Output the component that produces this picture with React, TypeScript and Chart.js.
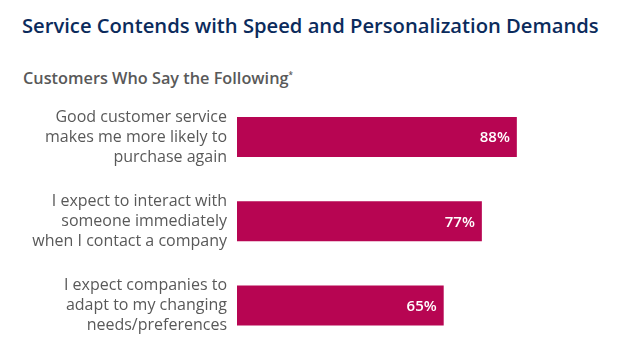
import React, { useEffect, useRef } from "react";
import { Chart, registerables } from "chart.js";

Chart.register(...registerables);

const categories: string[][] = [
  ["Good customer service", "makes me more likely to", "purchase again"],
  ["I expect to interact with", "someone immediately", "when I contact a company"],
  ["I expect companies to", "adapt to my changing", "needs/preferences"],
];
const values: number[] = [88, 77, 65];
const titleText = "Service Contends with Speed and Personalization Demands";
const subtitleText = "Customers Who Say the Following";

const FONT = "'Open Sans', 'Noto Sans', sans-serif";
const BAR_COLOR = "#b70552";

const valueLabels = {
  id: "valueLabels",
  afterDatasetsDraw(chart: any) {
    const ctx = chart.ctx;
    const meta = chart.getDatasetMeta(0);
    ctx.save();
    ctx.fillStyle = "#ffffff";
    ctx.font = `600 15px ${FONT}`;
    ctx.textAlign = "right";
    ctx.textBaseline = "middle";
    meta.data.forEach((bar: any, i: number) => {
      ctx.fillText(`${values[i]}%`, bar.x - 7, bar.y + 1);
    });
    ctx.restore();
  },
};

export default function App() {
  const ref = useRef<HTMLCanvasElement>(null);
  useEffect(() => {
    const chart = new Chart(ref.current!, {
      type: "bar",
      data: {
        labels: categories,
        datasets: [
          {
            data: values,
            backgroundColor: BAR_COLOR,
            barPercentage: 0.95,
            categoryPercentage: 0.5,
          },
        ],
      },
      options: {
        indexAxis: "y",
        animation: false,
        responsive: false,
        layout: { padding: { top: 95, bottom: 12.5, left: 0, right: 65 } },
        plugins: { legend: { display: false }, tooltip: { enabled: false } },
        scales: {
          x: { display: false, min: 0, max: 100 },
          y: {
            grid: { display: false, drawTicks: false },
            border: { display: false },
            ticks: {
              color: "#595959",
              padding: 10,
              font: { family: FONT, size: 16, lineHeight: 1.25 },
            },
            afterFit(scale: any) {
              scale.width = 237;
              scale.paddingTop = 0;
              scale.paddingBottom = 0;
            },
          },
        },
      },
      plugins: [valueLabels],
    });
    return () => chart.destroy();
  }, []);

  return (
    <div
      style={{
        position: "fixed",
        left: 0,
        top: 0,
        width: 620,
        height: 360,
        background: "#ffffff",
        fontFamily: FONT,
      }}
    >
      <div
        style={{
          position: "absolute",
          left: 22,
          top: 11,
          fontSize: 20.2,
          fontWeight: 600,
          color: "#0b2b5c",
          whiteSpace: "nowrap",
        }}
      >
        {titleText}
      </div>
      <div
        style={{
          position: "absolute",
          left: 23,
          top: 67,
          fontSize: 16.3,
          fontWeight: 600,
          color: "#595959",
          whiteSpace: "nowrap",
        }}
      >
        {subtitleText}
        <sup style={{ fontSize: 8 }}>*</sup>
      </div>
      <canvas ref={ref} width={620} height={360} style={{ position: "absolute", left: 0, top: 0 }} />
    </div>
  );
}
